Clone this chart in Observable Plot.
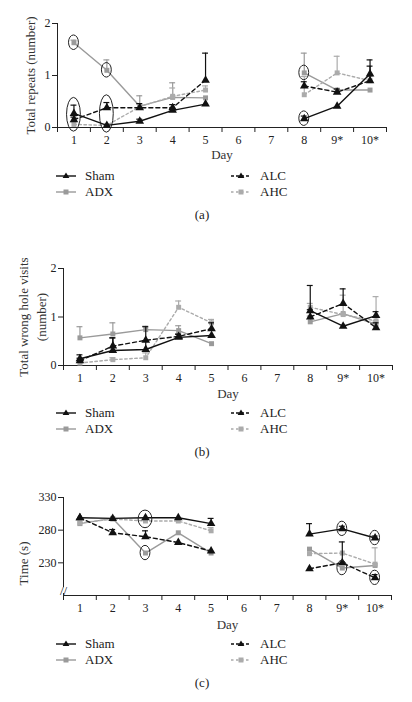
<!DOCTYPE html>
<html><head><meta charset="utf-8">
<script src="https://cdn.jsdelivr.net/npm/d3@7"></script>
<script src="https://cdn.jsdelivr.net/npm/@observablehq/plot@0.6"></script>
<style>
body{margin:0;background:#fff;font-family:"Liberation Serif",serif;color:#222}
#root{position:relative;width:412px;height:702px;overflow:hidden;background:#fff}
.panel{position:absolute;left:0}
.leg{position:absolute;font-size:13px;display:flex;align-items:center;height:16px;white-space:nowrap}
.leg svg{margin-right:8px}
.cap{position:absolute;font-size:13px;transform:translate(-50%,-50%)}
</style></head><body><div id="root"></div><script>
// ---------- data ----------
const days = [1, 2, 3, 4, 5, 8, 9, 10];
const dayLabels = ["1", "2", "3", "4", "5", "6", "7", "8", "9*", "10*"];
const seriesNames = ["ADX", "AHC", "ALC", "Sham"]; // drawing order

// (a) Total repeats (number)
const aSham = [0.27, 0.04, 0.12, 0.33, 0.45, 0.17, 0.41, 1.03];
const aShamErr = [0.16, 0, 0.04, 0.03, 0, 0.05, 0, 0.27];
const aADX = [1.63, 1.10, 0.41, 0.58, 0.57, 1.05, 0.72, 0.72];
const aADXErr = [0.05, 0.20, 0.20, 0.28, 0, 0.38, 0, 0];
const aALC = [0.15, 0.38, 0.38, 0.38, 0.91, 0.80, 0.68, 0.90];
const aALCErr = [0.05, 0.10, 0.08, 0.06, 0.52, 0.08, 0.06, 0.28];
const aAHC = [0.06, 0.04, 0.40, 0.60, 0.72, 0.63, 1.05, 0.90];
const aAHCErr = [0.05, 0, 0.05, 0.16, 0.08, 0.35, 0.32, 0.08];

// (b) Total wrong hole visits (number)
const bSham = [0.14, 0.31, 0.33, 0.58, 0.62, 1.13, 0.81, 1.03];
const bShamErr = [0.08, 0.26, 0.18, 0.06, 0, 0.52, 0, 0.08];
const bADX = [0.57, 0.65, 0.74, 0.72, 0.45, 0.90, 1.07, 0.85];
const bADXErr = [0.23, 0.23, 0.07, 0.10, 0, 0.12, 0, 0.07];
const bALC = [0.10, 0.40, 0.52, 0.60, 0.76, 1.00, 1.28, 0.78];
const bALCErr = [0.05, 0.17, 0.28, 0.05, 0.12, 0.15, 0.30, 0.10];
const bAHC = [0.05, 0.12, 0.16, 1.20, 0.88, 1.20, 1.05, 0.92];
const bAHCErr = [0.04, 0.04, 0.10, 0.13, 0.07, 0.08, 0.40, 0.50];

// (c) Time (s)
const cSham = [299, 298, 299, 299, 290, 274, 282, 268];
const cShamErr = [0, 0, 0, 0, 8, 16, 4, 3];
const cADX = [290, 298, 245, 276, 245, 251, 222, 226];
const cADXErr = [0, 0, 0, 0, 0, 0, 0, 0];
const cALC = [299, 276, 270, 261, 248, 221, 230, 207];
const cALCErr = [0, 5, 9, 0, 0, 0, 32, 5];
const cAHC = [291, 297, 294, 294, 279, 244, 245, 228];
const cAHCErr = [0, 0, 0, 0, 5, 0, 0, 25];

// circled points (annotations)
const aCircles = [
  {day: 1, members: ["ADX"]}, {day: 2, members: ["ADX"]},
  {day: 1, members: ["Sham", "ALC", "AHC"]}, {day: 2, members: ["Sham", "ALC", "AHC"]},
  {day: 8, members: ["ADX"]}, {day: 8, members: ["Sham"]}
];
const cCircles = [
  {day: 3, members: ["Sham", "AHC"]}, {day: 3, members: ["ADX"]},
  {day: 9, members: ["Sham"]}, {day: 10, members: ["Sham"]},
  {day: 9, members: ["ADX"]}, {day: 10, members: ["ALC"]}
];

const styles = {
  Sham: {color: "#111", dash: null, symbol: "triangle", r: 3.2},
  ADX: {color: "#9a9a9a", dash: null, symbol: "square", r: 2.8},
  ALC: {color: "#111", dash: "4,3", symbol: "triangle", r: 3.2},
  AHC: {color: "#ababab", dash: "2.5,2.5", symbol: "square", r: 2.8}
};

function rows(vals, errs, name) {
  return days.map((d, i) => ({day: d, value: vals[i], err: errs[i], series: name, seg: d <= 5 ? 0 : 1}));
}

const panels = [
  {
    id: "a", top: 0, height: 165, marginTop: 23, marginBottom: 38, marginLeft: 57, marginRight: 26,
    yDomain: [0, 2], yTicks: [0, 1, 2], yLabel: "Total repeats (number)", labelDx: -28,
    dayDy: 31, pad: 0.14,
    data: {Sham: rows(aSham, aShamErr, "Sham"), ADX: rows(aADX, aADXErr, "ADX"), ALC: rows(aALC, aALCErr, "ALC"), AHC: rows(aAHC, aAHCErr, "AHC")},
    circles: aCircles, legendTop: 176, caption: "(a)", captionY: 215
  },
  {
    id: "b", top: 230, height: 175, marginTop: 38, marginBottom: 40, marginLeft: 63, marginRight: 20,
    yDomain: [0, 2], yTicks: [0, 1, 2], yLabel: "Total wrong hole visits\n(number)", labelDx: -32,
    dayDy: 32, pad: 0.14,
    data: {Sham: rows(bSham, bShamErr, "Sham"), ADX: rows(bADX, bADXErr, "ADX"), ALC: rows(bALC, bALCErr, "ALC"), AHC: rows(bAHC, bAHCErr, "AHC")},
    circles: [], legendTop: 413, caption: "(b)", captionY: 452
  },
  {
    id: "c", top: 465, height: 171, marginTop: 32, marginBottom: 41, marginLeft: 63, marginRight: 21,
    yDomain: [180, 330], yTicks: [230, 280, 330], yLabel: "Time (s)", labelDx: -41, labelY: 229,
    dayDy: 33, pad: 11, brk: 187,
    data: {Sham: rows(cSham, cShamErr, "Sham"), ADX: rows(cADX, cADXErr, "ADX"), ALC: rows(cALC, cALCErr, "ALC"), AHC: rows(cAHC, cAHCErr, "AHC")},
    circles: cCircles, legendTop: 644, caption: "(c)", captionY: 683
  }
];

const root = document.getElementById("root");
const FONT = "Liberation Serif";

for (const p of panels) {
  const marks = [];
  const [y0, y1] = p.yDomain;
  // axis lines
  if (p.brk != null) {
    marks.push(Plot.ruleX([0.5], {y1: p.brk + 5, y2: y1, stroke: "#222"}));
    marks.push(Plot.ruleX([0.5], {y1: y0, y2: p.brk - 4, stroke: "#222"}));
    marks.push(Plot.text(["//"], {x: () => 0.5, y: () => p.brk, fontSize: 13, fill: "#222", fontFamily: FONT, textAnchor: "middle"}));
  } else {
    marks.push(Plot.ruleX([0.5], {y1: y0, y2: y1, stroke: "#222"}));
  }
  marks.push(Plot.ruleY([y0], {stroke: "#222"}));
  marks.push(Plot.axisY({ticks: p.yTicks, tickSize: 5, tickPadding: 2, tickFormat: d => String(d), label: null, fontSize: 12, fontFamily: FONT, color: "#222"}));
  marks.push(Plot.axisX({ticks: d3.range(1, 11), tickSize: 0, tickPadding: 8, tickFormat: d => dayLabels[d - 1], label: null, fontSize: 12, fontFamily: FONT, color: "#222"}));
  marks.push(Plot.axisX({ticks: d3.range(0.5, 11, 1), tickSize: 5, tickFormat: () => "", label: null, color: "#222"}));

  // error bars, lines, markers
  for (const name of seriesNames) {
    const st = styles[name];
    const data = p.data[name];
    const withErr = data.filter(d => d.err > 0);
    marks.push(Plot.ruleX(withErr, {x: "day", y1: "value", y2: d => d.value + d.err, stroke: st.color, strokeWidth: 1.2}));
    marks.push(Plot.ruleY(withErr, {y: d => d.value + d.err, x1: d => d.day - 0.09, x2: d => d.day + 0.09, stroke: st.color, strokeWidth: 1.2}));
    marks.push(Plot.line(data, {x: "day", y: "value", z: "seg", stroke: st.color, strokeWidth: 1.4, strokeDasharray: st.dash}));
    marks.push(Plot.dot(data, {x: "day", y: "value", symbol: st.symbol, r: st.r, fill: st.color, stroke: "none"}));
  }

  // circled points
  if (p.circles.length) {
    const ell = p.circles.map(c => {
      const pts = c.members.map(m => p.data[m].find(d => d.day === c.day));
      const group = c.members.length > 1;
      const lo = d3.min(pts, d => d.value) - p.pad;
      const hi = d3.max(pts, d => d.value + (group ? d.err : 0)) + p.pad;
      const hw = group ? 0.21 : 0.15;
      return {x1: c.day - hw, x2: c.day + hw, y1: lo, y2: hi};
    });
    marks.push(Plot.rect(ell, {x1: "x1", x2: "x2", y1: "y1", y2: "y2", rx: 200, ry: 200, fill: "none", stroke: "#222", strokeWidth: 1}));
  }

  // labels
  const lab = {frameAnchor: "left", textAnchor: "middle", lineAnchor: "middle", rotate: -90, dx: p.labelDx, fontSize: 13, lineHeight: 1.35, fill: "#333", fontFamily: FONT};
  if (p.labelY != null) lab.y = () => p.labelY;
  marks.push(Plot.text([p.yLabel], lab));
  marks.push(Plot.text(["Day"], {frameAnchor: "bottom", dy: p.dayDy, fontSize: 13, fill: "#333", fontFamily: FONT}));

  const svg = Plot.plot({
    width: 412, height: p.height,
    marginTop: p.marginTop, marginBottom: p.marginBottom, marginLeft: p.marginLeft, marginRight: p.marginRight,
    x: {domain: [0.5, 10.5], axis: null},
    y: {domain: p.yDomain, axis: null},
    style: {fontFamily: FONT, fontSize: "12px", color: "#222", background: "white", overflow: "visible"},
    marks
  });
  const wrap = document.createElement("div");
  wrap.className = "panel";
  wrap.style.top = p.top + "px";
  wrap.appendChild(svg);
  root.appendChild(wrap);

  // legend
  const legendItems = [
    {name: "Sham", col: 0, row: 0}, {name: "ADX", col: 0, row: 1},
    {name: "ALC", col: 1, row: 0}, {name: "AHC", col: 1, row: 1}
  ];
  for (const it of legendItems) {
    const st = styles[it.name];
    const el = document.createElement("div");
    el.className = "leg";
    el.style.left = (it.col ? 231 : 56) + "px";
    el.style.top = (p.legendTop - 8 + it.row * 16) + "px";
    const mk = st.symbol === "triangle"
      ? `<path d="M10,2.4 L13.4,8 L6.6,8 Z" fill="${st.color}"/>`
      : `<rect x="7.5" y="3.5" width="5" height="5" fill="${st.color}"/>`;
    el.innerHTML = `<svg width="21" height="12"><line x1="0" x2="20" y1="6" y2="6" stroke="${st.color}" stroke-width="1.4" ${st.dash ? `stroke-dasharray="${st.dash === "4,3" ? "3,2" : "2.5,2.5"}"` : ""}/>${mk}</svg><span>${it.name}</span>`;
    root.appendChild(el);
  }
  const cap = document.createElement("div");
  cap.className = "cap";
  cap.style.left = "202px";
  cap.style.top = p.captionY + "px";
  cap.textContent = p.caption;
  root.appendChild(cap);
}
</script></body></html>
